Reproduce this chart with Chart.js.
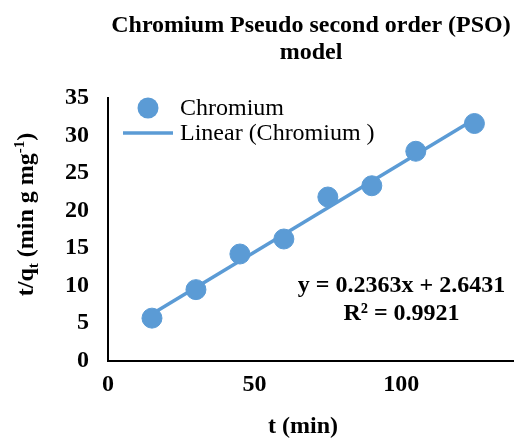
<!DOCTYPE html>
<html>
<head>
<meta charset="utf-8">
<script src="https://cdn.jsdelivr.net/npm/chart.js@4/dist/chart.umd.min.js"></script>
<style>
html,body{margin:0;padding:0;background:#fff;overflow:hidden;}
canvas{display:block;}
</style>
</head>
<body>
<canvas id="c" width="514" height="438"></canvas>
<script>
// ---- data ----
const timeMin = [15, 30, 45, 60, 75, 90, 105, 125];
const tOverQt = [5.65, 9.45, 14.2, 16.2, 21.8, 23.3, 27.9, 31.6];
const trendX = [15, 125];
const trendY = [6.19, 32.18];
const xTicks = [0, 50, 100];
const yTicks = [0, 5, 10, 15, 20, 25, 30, 35];
const titleLines = ['Chromium Pseudo second order (PSO)', 'model'];
const seriesName = 'Chromium';
const trendName = 'Linear (Chromium )';
const equationText = 'y = 0.2363x + 2.6431';
const r2Text = 'R\u00B2 = 0.9921';
const xTitle = 't (min)';

const BLUE = '#5B9BD5';
const SERIF = '"Liberation Serif", "Times New Roman", serif';

const overlay = {
  id: 'overlay',
  afterDraw(chart) {
    const ctx = chart.ctx;
    const ca = chart.chartArea;
    ctx.save();
    // legend
    ctx.fillStyle = BLUE;
    ctx.beginPath();
    ctx.arc(148, 108, 10.5, 0, Math.PI * 2);
    ctx.fill();
    ctx.strokeStyle = BLUE;
    ctx.lineWidth = 3.5;
    ctx.beginPath();
    ctx.moveTo(123, 133);
    ctx.lineTo(173, 133);
    ctx.stroke();
    ctx.fillStyle = '#000';
    ctx.font = '24px ' + SERIF;
    ctx.textAlign = 'left';
    ctx.textBaseline = 'middle';
    ctx.fillText(seriesName, 180, 109);
    ctx.fillText(trendName, 180, 134);

    // equation
    ctx.font = 'bold 24px ' + SERIF;
    ctx.textAlign = 'center';
    ctx.fillText(equationText, ca.left + 293.5, 286);
    ctx.fillText(r2Text, ca.left + 293.5, 314);

    // x title
    ctx.fillText(xTitle, ca.left + 195, 427);

    // y title with sub/superscripts
    const parts = [
      {t: 't/q', f: 'bold 24px ', dv: 0},
      {t: 't', f: 'bold 15px ', dv: 5},
      {t: ' (min g mg', f: 'bold 24px ', dv: 0},
      {t: '-1', f: 'bold 15px ', dv: -9},
      {t: ')', f: 'bold 24px ', dv: 0}
    ];
    let total = 0;
    parts.forEach(p => { ctx.font = p.f + SERIF; p.w = ctx.measureText(p.t).width; total += p.w; });
    ctx.translate(33, 214.5);
    ctx.rotate(-Math.PI / 2);
    ctx.textAlign = 'left';
    ctx.textBaseline = 'alphabetic';
    let u = -total / 2;
    parts.forEach(p => {
      ctx.font = p.f + SERIF;
      ctx.fillText(p.t, u, p.dv);
      u += p.w;
    });
    ctx.restore();
  }
};

new Chart(document.getElementById('c'), {
  type: 'scatter',
  data: {
    datasets: [
      {
        label: seriesName,
        data: timeMin.map((x, i) => ({x: x, y: tOverQt[i]})),
        backgroundColor: BLUE,
        borderColor: BLUE,
        pointRadius: 10,
        pointBorderWidth: 1,
        showLine: false
      },
      {
        label: trendName,
        type: 'line',
        data: trendX.map((x, i) => ({x: x, y: trendY[i]})),
        borderColor: BLUE,
        borderWidth: 3.5,
        pointRadius: 0,
        fill: false
      }
    ]
  },
  options: {
    responsive: false,
    animation: false,
    layout: {autoPadding: false, padding: {left: 0, right: 0, top: 0, bottom: 0}},
    plugins: {
      legend: {display: false},
      tooltip: {enabled: false},
      title: {
        display: true,
        fullSize: false,
        text: titleLines,
        color: '#000',
        font: {family: SERIF, size: 24, weight: 'bold', lineHeight: 1.125},
        padding: {top: 12, bottom: 32}
      }
    },
    scales: {
      x: {
        type: 'linear',
        min: 0,
        max: 138.5,
        afterBuildTicks: (s) => { s.ticks = xTicks.map(v => ({value: v})); },
        afterFit: (s) => { s.height = 77.5; },
        grid: {display: false, drawTicks: false},
        border: {display: true, color: '#000', width: 2},
        ticks: {color: '#000', padding: 10, font: {family: SERIF, size: 24, weight: 'bold'}, maxRotation: 0}
      },
      y: {
        type: 'linear',
        min: 0,
        max: 35,
        afterBuildTicks: (s) => { s.ticks = yTicks.map(v => ({value: v})); },
        afterFit: (s) => { s.width = 108; },
        grid: {display: false, drawTicks: false},
        border: {display: true, color: '#000', width: 2},
        ticks: {color: '#000', padding: 19, font: {family: SERIF, size: 24, weight: 'bold'}}
      }
    }
  },
  plugins: [overlay]
});
</script>
</body>
</html>
